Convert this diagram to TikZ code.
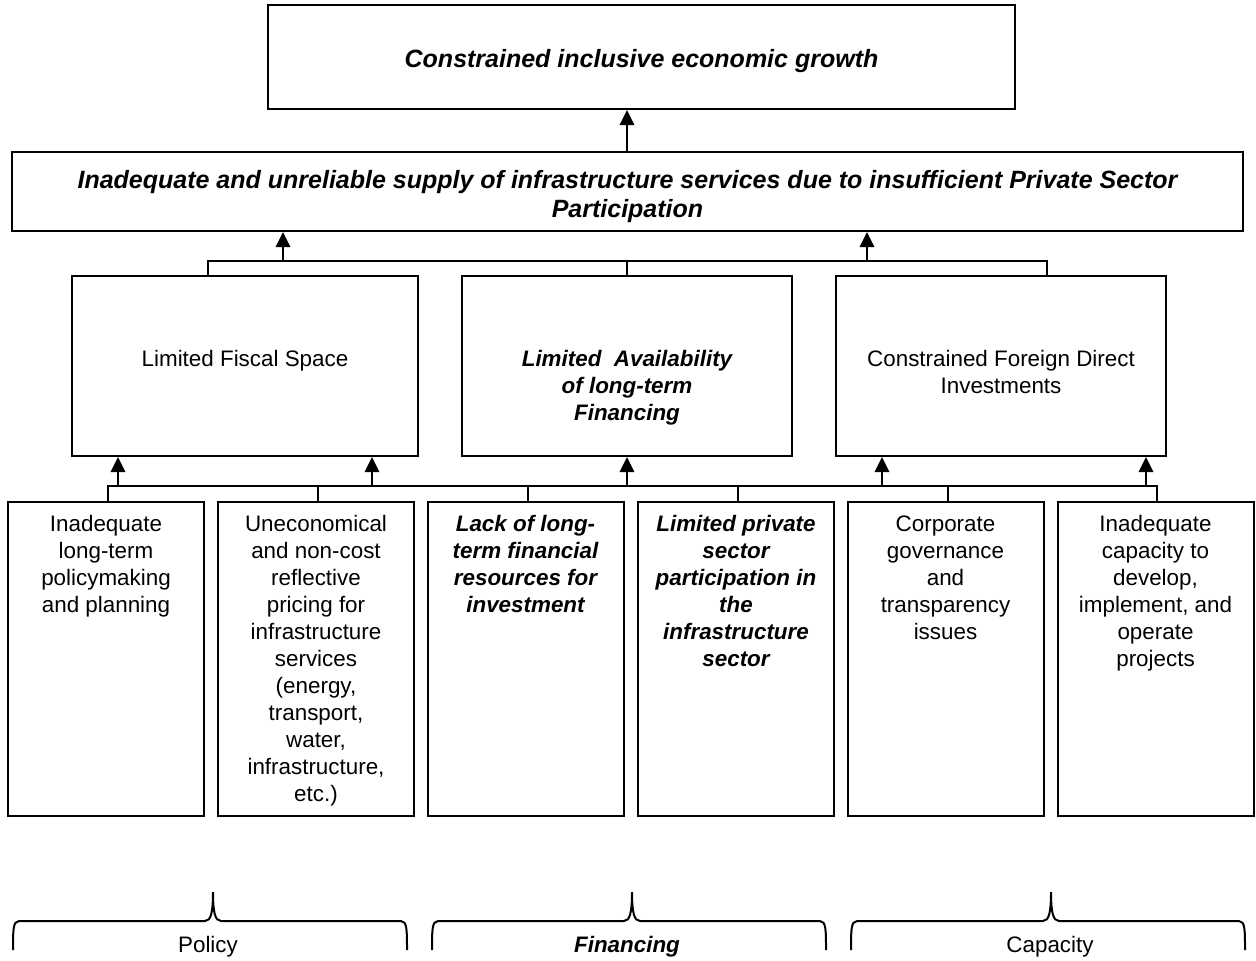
\documentclass[tikz,border=0pt]{standalone}
\usepackage{fontspec}
\setmainfont{Liberation Sans}
\usetikzlibrary{arrows.meta,positioning}
\tikzset{box/.style={draw, line width=1pt, inner sep=0pt},
    txt/.style={align=center, inner sep=0pt, font=\fontsize{11.2}{13.5}\selectfont},
    bitxt/.style={txt, font=\fontsize{11.2}{13.5}\selectfont\bfseries\itshape},
    head/.style={align=center, inner sep=0pt, font=\fontsize{12.5}{14.5}\selectfont\bfseries\itshape},
    bus/.style={line width=0.9pt},
    upto/.style={line width=1.4pt, -{Triangle[length=7.5pt,width=7pt]}},
    bracepath/.style={line width=1pt}}
\newcommand{\upbrace}[3]{%
    \draw[bracepath] (#1,950) .. controls (#1,930) and (#1,921) .. (#1+6,921) -- (#2-8,921)
      .. controls (#2-2,921) and (#2,912) .. (#2,892)
      .. controls (#2,912) and (#2+2,921) .. (#2+8,921) -- (#3-6,921)
      .. controls (#3,921) and (#3,930) .. (#3,950);}

\begin{document}
\begin{tikzpicture}[x=0.5pt,y=-0.5pt]
    \useasboundingbox (0,0) rectangle (1256,960);
    % top of the tree
    \node[box, minimum width=373.5pt, minimum height=52pt] (growth) at (641.5,57) {};
    \node[box, minimum width=615.5pt, minimum height=39.5pt] (supply) at (627.5,191.5) {};
    \node[head] (growth-t) at ([yshift=-2pt]growth.center) {Constrained inclusive economic growth};
    \node[head] (supply-t) at ([yshift=-2.5pt]supply.center)
        {Inadequate and unreliable supply of infrastructure services due to insufficient Private Sector\\Participation};
    \draw[upto] (supply.north -| 627,0) -- (growth.south -| 627,0);

    % middle row
    \node[box, minimum width=173pt, minimum height=90pt] (fiscal) at (245,366) {};
    \node[box, minimum width=165pt, minimum height=90pt] (longterm) at (627,366) {};
    \node[box, minimum width=165pt, minimum height=90pt] (fdi) at (1001,366) {};
    \node[txt, below=37.5pt of fiscal.north] (fiscal-t) {Limited Fiscal Space};
    \node[bitxt, below=37.5pt of longterm.north] (longterm-t) {Limited\ \ Availability\\of long-term\\Financing};
    \node[txt, below=37.5pt of fdi.north] (fdi-t) {Constrained Foreign Direct\\Investments};

    \coordinate (midL) at (208,261);
    \coordinate (midR) at (1047,261);
    \draw[bus] ([xshift=-18.5pt]fiscal.north) -- (midL) -- (midR) -- ([xshift=23pt]fdi.north);
    \draw[bus] (longterm.north) -- (longterm.north |- midL);
    \foreach \ax in {283,867}{
        \coordinate (a) at (\ax,261);
        \draw[upto] (a) -- (a |- supply.south);
    }

    % bottom row
    \node[box, minimum width=98pt, minimum height=157pt] (p1) at (106,659) {};
    \node[box, minimum width=98pt, minimum height=157pt] (p2) at (316,659) {};
    \node[box, minimum width=98pt, minimum height=157pt] (p3) at (525.5,659) {};
    \node[box, minimum width=98pt, minimum height=157pt] (p4) at (736,659) {};
    \node[box, minimum width=98pt, minimum height=157pt] (p5) at (945.5,659) {};
    \node[box, minimum width=98pt, minimum height=157pt] (p6) at (1155.5,659) {};
    \node[txt, below=7pt of p1.north] (p1-t) {Inadequate\\long-term\\policymaking\\and planning};
    \node[txt, below=7pt of p2.north] (p2-t) {Uneconomical\\and non-cost\\reflective\\pricing for\\infrastructure\\services\\(energy,\\transport,\\water,\\infrastructure,\\etc.)};
    \node[bitxt, below=7pt of p3.north] (p3-t) {Lack of long-\\term financial\\resources for\\investment};
    \node[bitxt, below=7pt of p4.north] (p4-t) {Limited private\\sector\\participation in\\the\\infrastructure\\sector};
    \node[txt, below=7pt of p5.north] (p5-t) {Corporate\\governance\\and\\transparency\\issues};
    \node[txt, below=7pt of p6.north] (p6-t) {Inadequate\\capacity to\\develop,\\implement, and\\operate\\projects};

    \coordinate (lowL) at (108,486);
    \coordinate (lowR) at (1157,486);
    \draw[bus] ([xshift=1pt]p1.north) -- (lowL) -- (lowR) -- ([xshift=0.75pt]p6.north);
    \foreach \p/\dx in {p2/1pt,p3/1.25pt,p4/1pt,p5/1.25pt}
        \draw[bus] ([xshift=\dx]\p.north) -- ([xshift=\dx]\p.north |- lowL);
    \foreach \ax in {118,372,627,882,1146}{
        \coordinate (b) at (\ax,486);
        \draw[upto] (b) -- (b |- fiscal.south);
    }

    % braces
    \upbrace{13}{213}{407}
    \upbrace{432}{632}{826}
    \upbrace{851}{1051}{1245}
    \node[txt] (policy) at (208,947) {Policy};
    \node[bitxt] (financing) at (627,947) {Financing};
    \node[txt] (capacity) at (1050,947) {Capacity};
\end{tikzpicture}
\end{document}
